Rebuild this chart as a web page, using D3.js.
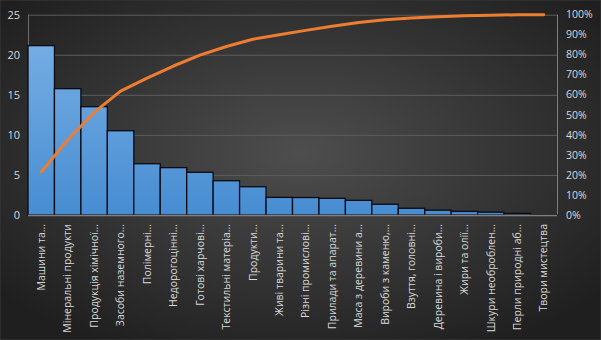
<!DOCTYPE html>
<html>
<head>
<meta charset="utf-8">
<script src="https://cdn.jsdelivr.net/npm/d3@7"></script>
<style>
html,body{margin:0;padding:0;background:#262626;}
svg{display:block;}
</style>
</head>
<body>
<script>
const categories = [
  "Машини та...", "Мінеральні продукти", "Продукція хімічної...", "Засоби наземного...",
  "Полімерні...", "Недорогоцінні...", "Готові харчові...", "Текстильні матеріа...",
  "Продукти...", "Живі тварини та...", "Різні промислові...", "Прилади та апарат...",
  "Маса з деревини а...", "Вироби з каменю,...", "Взуття, головні...", "Деревина і вироби...",
  "Жири та олії...", "Шкури необроблен...", "Перли природні аб...", "Твори мистецтва"
];
const values = [21.14, 15.77, 13.52, 10.52, 6.40, 5.91, 5.33, 4.28, 3.53, 2.20,
                 2.18, 2.08, 1.83, 1.34, 0.84, 0.60, 0.45, 0.35, 0.20, 0.02];
const leftTicks = [0, 5, 10, 15, 20, 25];
const rightTicks = [0, 0.1, 0.2, 0.3, 0.4, 0.5, 0.6, 0.7, 0.8, 0.9, 1.0];

const W = 601, H = 340;
const m = {left: 28, right: 44, top: 14.7, bottom: 125};
const total = d3.sum(values);
const cum = Array.from(d3.cumsum(values), v => v / total);

const svg = d3.select("body").append("svg").attr("width", W).attr("height", H);
const defs = svg.append("defs");
const bg = defs.append("radialGradient").attr("id", "bg")
  .attr("cx", "50%").attr("cy", "45%").attr("r", "65%");
bg.append("stop").attr("offset", "0%").attr("stop-color", "#4e4e4e");
bg.append("stop").attr("offset", "100%").attr("stop-color", "#1f1f1f");

svg.append("rect").attr("width", W).attr("height", H).attr("fill", "url(#bg)")
  .attr("stroke", "#3a3a3a").attr("stroke-width", 1);

const x = d3.scaleBand().domain(categories).range([m.left, W - m.right]).padding(0);
const y = d3.scaleLinear().domain([0, 25]).range([H - m.bottom, m.top]);
const y2 = d3.scaleLinear().domain([0, 1]).range([H - m.bottom, m.top]);

const bar = defs.append("linearGradient").attr("id", "bar")
  .attr("gradientUnits", "userSpaceOnUse")
  .attr("x1", 0).attr("x2", 0).attr("y1", y(25)).attr("y2", y(0));
bar.append("stop").attr("offset", "0%").attr("stop-color", "#7db2e6");
bar.append("stop").attr("offset", "100%").attr("stop-color", "#478dd2");

// gridlines
svg.append("g").selectAll("line").data(leftTicks.filter(d => d > 0)).join("line")
  .attr("x1", m.left).attr("x2", W - m.right)
  .attr("y1", d => y(d) + 0.5).attr("y2", d => y(d) + 0.5)
  .attr("stroke", "#5c5c5c").attr("stroke-width", 1);

// left axis line
svg.append("line").attr("x1", m.left + 0.5).attr("x2", m.left + 0.5)
  .attr("y1", y(25)).attr("y2", y(0)).attr("stroke", "#6a6a6a");
// right axis line
svg.append("line").attr("x1", W - m.right + 0.5).attr("x2", W - m.right + 0.5)
  .attr("y1", y(25)).attr("y2", y(0)).attr("stroke", "#7f7f7f");

// bars
svg.append("g").selectAll("rect").data(values).join("rect")
  .attr("x", (d, i) => x(categories[i]))
  .attr("y", d => y(d))
  .attr("width", x.bandwidth())
  .attr("height", d => y(0) - y(d))
  .attr("fill", "url(#bar)")
  .attr("stroke", "#0a0a14").attr("stroke-width", 1.3);

// bottom axis
svg.append("line").attr("x1", m.left).attr("x2", W - m.right)
  .attr("y1", y(0) + 0.5).attr("y2", y(0) + 0.5).attr("stroke", "#7f7f7f").attr("stroke-width", 1.5);

// cumulative line
svg.append("path").datum(cum)
  .attr("d", d3.line().x((d, i) => x(categories[i]) + x.bandwidth() / 2).y(d => y2(d)))
  .attr("fill", "none").attr("stroke", "#ED7D31").attr("stroke-width", 3)
  .attr("stroke-linecap", "round").attr("stroke-linejoin", "round");

const font = "'Open Sans', sans-serif";
// left tick labels
svg.append("g").selectAll("text").data(leftTicks).join("text")
  .attr("x", 20).attr("y", d => y(d)).attr("dy", "0.35em")
  .attr("text-anchor", "end").attr("fill", "#d9d9d9")
  .attr("font-family", font).attr("font-size", 11).text(d => d);
// right tick labels
svg.append("g").selectAll("text").data(rightTicks).join("text")
  .attr("x", 566).attr("y", d => y2(d)).attr("dy", "0.35em")
  .attr("text-anchor", "start").attr("fill", "#d9d9d9")
  .attr("font-family", font).attr("font-size", 10.5).text(d => d3.format(".0%")(d));
// category labels
svg.append("g").selectAll("text").data(categories).join("text")
  .attr("transform", d => `translate(${x(d) + x.bandwidth() / 2},${y(0) + 9}) rotate(-90)`)
  .attr("dy", "0.35em")
  .attr("text-anchor", "end").attr("fill", "#d9d9d9")
  .attr("font-family", font).attr("font-size", 10.5).text(d => d);
</script>
</body>
</html>
